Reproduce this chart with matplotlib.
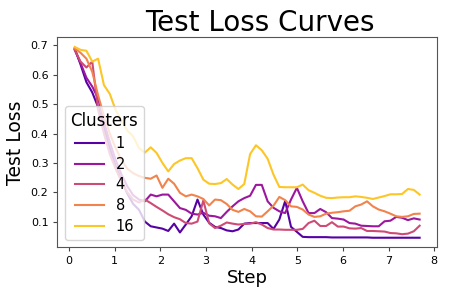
import numpy as np
import matplotlib.pyplot as plt

# x positions: one eval every 0.128 "steps"
steps = 0.128 * np.arange(1, 61)

clusters = ["1", "2", "4", "8", "16"]

loss_1 = [0.69, 0.635, 0.575, 0.54, 0.49, 0.42, 0.35, 0.29, 0.24, 0.195, 0.16, 0.14,
          0.10, 0.084, 0.08, 0.076, 0.068, 0.093, 0.063, 0.09, 0.118, 0.175, 0.124, 0.096,
          0.082, 0.078, 0.07, 0.067, 0.073, 0.093, 0.095, 0.095, 0.095, 0.095, 0.075, 0.107,
          0.17, 0.082, 0.065, 0.048, 0.047, 0.047, 0.047, 0.047, 0.046, 0.046, 0.046, 0.046,
          0.046, 0.046, 0.046, 0.045, 0.045, 0.045, 0.045, 0.045, 0.045, 0.045, 0.045, 0.045]

loss_2 = [0.685, 0.64, 0.59, 0.56, 0.52, 0.44, 0.37, 0.31, 0.26, 0.22, 0.19, 0.175,
          0.169, 0.192, 0.186, 0.192, 0.192, 0.169, 0.146, 0.14, 0.127, 0.124, 0.13, 0.12,
          0.118, 0.112, 0.133, 0.152, 0.169, 0.18, 0.188, 0.225, 0.225, 0.169, 0.147, 0.135,
          0.129, 0.175, 0.215, 0.169, 0.129, 0.129, 0.143, 0.132, 0.112, 0.11, 0.107, 0.095,
          0.093, 0.086, 0.085, 0.084, 0.084, 0.101, 0.103, 0.116, 0.113, 0.105, 0.111, 0.107]

loss_4 = [0.685, 0.645, 0.625, 0.645, 0.48, 0.40, 0.33, 0.28, 0.235, 0.2, 0.175, 0.165,
          0.175, 0.163, 0.15, 0.138, 0.125, 0.115, 0.108, 0.095, 0.093, 0.1, 0.172, 0.094,
          0.078, 0.086, 0.097, 0.093, 0.09, 0.092, 0.093, 0.098, 0.09, 0.078, 0.073, 0.073,
          0.072, 0.072, 0.072, 0.075, 0.095, 0.103, 0.085, 0.085, 0.098, 0.083, 0.083, 0.077,
          0.076, 0.078, 0.068, 0.068, 0.067, 0.066, 0.061, 0.06, 0.057, 0.059, 0.067, 0.086]

loss_8 = [0.69, 0.675, 0.655, 0.61, 0.53, 0.46, 0.40, 0.35, 0.31, 0.28, 0.265, 0.255,
          0.249, 0.246, 0.257, 0.215, 0.246, 0.229, 0.198, 0.186, 0.192, 0.186, 0.177, 0.155,
          0.175, 0.173, 0.16, 0.14, 0.133, 0.143, 0.135, 0.118, 0.117, 0.135, 0.154, 0.184,
          0.173, 0.152, 0.15, 0.141, 0.124, 0.116, 0.118, 0.127, 0.13, 0.132, 0.135, 0.137,
          0.152, 0.158, 0.169, 0.152, 0.141, 0.135, 0.127, 0.118, 0.116, 0.118, 0.126, 0.127]

loss_16 = [0.695, 0.685, 0.682, 0.645, 0.655, 0.565, 0.535, 0.48, 0.445, 0.41, 0.39, 0.35,
           0.335, 0.353, 0.334, 0.30, 0.271, 0.296, 0.308, 0.316, 0.316, 0.282, 0.243, 0.229,
           0.228, 0.231, 0.245, 0.226, 0.211, 0.228, 0.33, 0.36, 0.343, 0.314, 0.26, 0.218,
           0.217, 0.217, 0.217, 0.226, 0.207, 0.198, 0.188, 0.181, 0.18, 0.182, 0.183, 0.183,
           0.186, 0.184, 0.181, 0.177, 0.182, 0.187, 0.193, 0.193, 0.194, 0.211, 0.208, 0.192]

losses = [loss_1, loss_2, loss_4, loss_8, loss_16]

# sample plasma, stop before the pale end
colors = plt.cm.plasma(np.linspace(0.15, 0.88, len(clusters)))

fig = plt.figure(figsize=(4.49, 2.99), dpi=100)
ax = fig.add_axes([0.128, 0.173, 0.845, 0.702])

for name, loss, c in zip(clusters, losses, colors):
    ax.plot(steps, loss, color=c, linewidth=1.5, label=name)

ax.set_title("Test Loss Curves", fontsize=20, pad=3, x=0.534)
ax.set_xlabel("Step", fontsize=13, labelpad=2)
ax.set_ylabel("Test Loss", fontsize=13.5, labelpad=4)
ax.tick_params(labelsize=8, length=3, color="#444444")
for s in ax.spines.values():
    s.set_color("#555555")

ax.legend(title="Clusters", loc="lower left", fontsize=10.5, title_fontsize=12,
          labelspacing=0.4)

plt.savefig("out.png", dpi=100)
